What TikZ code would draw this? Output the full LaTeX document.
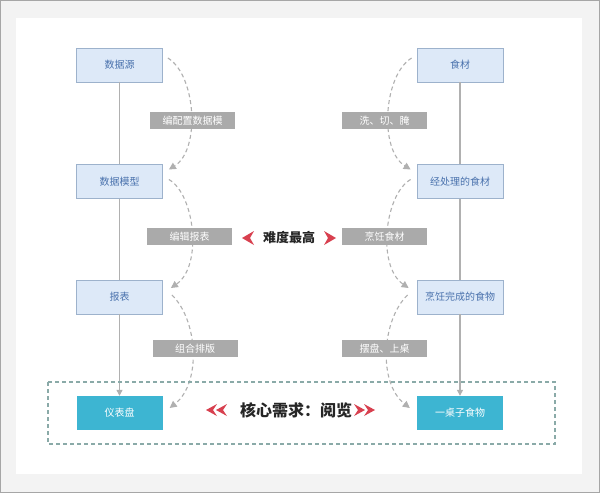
\documentclass[tikz,border=0pt]{standalone}
\usepackage{fontspec}
\setmainfont{Noto Sans CJK SC}
\usetikzlibrary{arrows.meta}
\definecolor{boxfill}{HTML}{DDE9F8}
\definecolor{boxdraw}{HTML}{9DB2CC}
\definecolor{boxtext}{HTML}{4A72AD}
\definecolor{cyanfill}{HTML}{3DB5D2}
\definecolor{lblfill}{HTML}{AAAAAA}
\definecolor{linegray}{HTML}{B0B0B0}
\definecolor{redmark}{HTML}{D8404F}
\definecolor{framebox}{HTML}{8AAAA8}
\definecolor{bggray}{HTML}{F3F3F3}
\tikzset{
  stepbox/.style={draw=boxdraw, fill=boxfill, line width=0.8pt, minimum width=86pt, minimum height=34pt, inner sep=0pt, text=boxtext, font=\fontsize{10}{12}\selectfont},
  finalbox/.style={fill=cyanfill, minimum width=86pt, minimum height=34pt, inner sep=0pt, text=white, font=\fontsize{10}{12}\selectfont},
  lbl/.style={fill=lblfill, minimum width=85pt, minimum height=17pt, inner sep=0pt, text=white, font=\fontsize{10}{12}\selectfont},
  vline/.style={draw=linegray, line width=1.2pt},
  curvearrow/.style={draw=linegray, line width=1.1pt, dash pattern=on 4pt off 3pt, -{Triangle[width=7pt,length=7pt]}},
  redtip/.style={fill=redmark, draw=none}
}
\begin{document}
\begin{tikzpicture}[x=1pt,y=-1pt]
\useasboundingbox (0,0) rectangle (600,493);
\fill[bggray] (0,0) rectangle (600,493);
\draw[gray!70, line width=1pt] (0.5,0.5) rectangle (599.5,492.5);
\fill[white] (16,18) rectangle (582,474);

% left column
\node[stepbox] (ds) at (119.5,65) {数据源};
\node[stepbox] (dm) at (119.5,181.5) {数据模型};
\node[stepbox] (rp) at (119.5,297) {报表};
\node[finalbox] (yb) at (119.5,413) {仪表盘};
% right column
\node[stepbox] (sc) at (460,65) {食材};
\node[stepbox] (jc) at (460,181.5) {经处理的食材};
\node[stepbox] (pr) at (460,297) {烹饪完成的食物};
\node[finalbox] (yz) at (460,413) {一桌子食物};

% vertical lines
\draw[vline] (ds.south) -- (dm.north);
\draw[vline] (dm.south) -- (rp.north);
\draw[vline, -{Triangle[width=6pt,length=6pt]}] (rp.south) -- (yb.north);
\draw[vline] (sc.south) -- (jc.north);
\draw[vline] (jc.south) -- (pr.north);
\draw[vline, -{Triangle[width=6pt,length=6pt]}] (pr.south) -- (yz.north);

% dashed curved arrows left
\draw[curvearrow] ([xshift=5pt,yshift=7pt]ds.east) .. controls +(28,17) and +(32,-20) .. ([xshift=6pt,yshift=12pt]dm.east);
\draw[curvearrow] ([xshift=6pt,yshift=2pt]dm.east) .. controls +(26,15) and +(32,-22) .. ([xshift=8pt,yshift=9pt]rp.east);
\draw[curvearrow] ([xshift=9pt,yshift=2pt]rp.east) .. controls +(26,25) and +(32,-25) .. ([xshift=7pt,yshift=5pt]yb.east);
% dashed curved arrows right
\draw[curvearrow] ([xshift=-5pt,yshift=7pt]sc.west) .. controls +(-28,17) and +(-32,-20) .. ([xshift=-6pt,yshift=12pt]jc.west);
\draw[curvearrow] ([xshift=-6pt,yshift=2pt]jc.west) .. controls +(-26,15) and +(-32,-22) .. ([xshift=-8pt,yshift=9pt]pr.west);
\draw[curvearrow] ([xshift=-9pt,yshift=2pt]pr.west) .. controls +(-26,25) and +(-32,-25) .. ([xshift=-7pt,yshift=5pt]yz.west);

% labels
\node[lbl] (l1) at (192.5,120.5) {编配置数据模};
\node[lbl] (l2) at (189.5,236.5) {编辑报表};
\node[lbl] (l3) at (195,348.5) {组合排版};
\node[lbl] (r1) at (384.5,120.5) {洗、切、腌};
\node[lbl] (r2) at (384.5,236.5) {烹饪食材};
\node[lbl] (r3) at (384.5,348.5) {摆盘、上桌};

% hardest
\node[font=\fontsize{13}{15}\selectfont\bfseries, text=black!85] (hard) at (289,238) {难度最高};
\fill[redtip] (242,238) -- (254,231) -- (250,238) -- (254,245) -- cycle;
\fill[redtip] (336,238) -- (324,231) -- (328,238) -- (324,245) -- cycle;

% core frame
\draw[draw=framebox, line width=1.3pt, dash pattern=on 4pt off 3pt] (48,382) rectangle (555,444);
\node[font=\fontsize{16}{18}\selectfont\bfseries, text=black!85] (core) at (296,410) {核心需求：阅览};
\fill[redtip] (206,410) -- (217,404) -- (213,410) -- (217,416) -- cycle;
\fill[redtip] (216,410) -- (227,404) -- (223,410) -- (227,416) -- cycle;
\fill[redtip] (365,410) -- (354,404) -- (358,410) -- (354,416) -- cycle;
\fill[redtip] (375,410) -- (364,404) -- (368,410) -- (364,416) -- cycle;
\end{tikzpicture}
\end{document}
